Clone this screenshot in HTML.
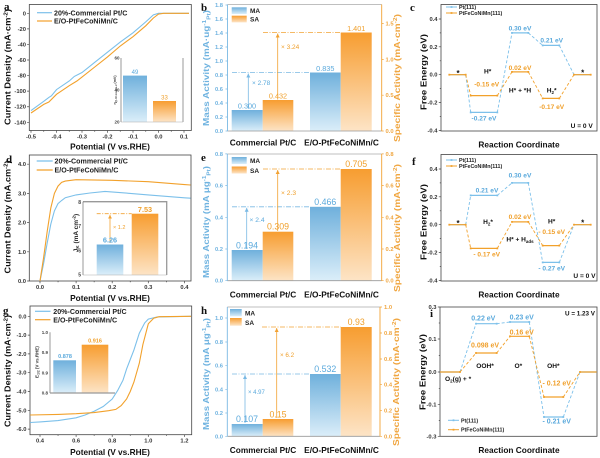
<!DOCTYPE html>
<html><head><meta charset="utf-8">
<style>
html,body{margin:0;padding:0;background:#fff;width:600px;height:458px;overflow:hidden}
svg{display:block}
text{font-family:"Liberation Sans",Arial,sans-serif}
.tk{font-size:5.8px;font-weight:bold;fill:#333}
.al{font-size:8.3px;font-weight:bold;fill:#111}
.lg{font-size:7.1px;font-weight:bold;fill:#222}
.pl{font-family:"Liberation Serif",serif;font-size:11px;font-weight:bold;fill:#111}
.b{fill:#5aa9dc}.o{fill:#f0a02c}
.sl{font-size:6.6px;font-weight:bold}
.cat{font-size:8.3px;font-weight:bold;fill:#111}
</style></head><body>
<svg width="600" height="458" viewBox="0 0 600 458" xmlns="http://www.w3.org/2000/svg">
<defs>
<linearGradient id="gb" x1="0" y1="0" x2="0" y2="1"><stop offset="0" stop-color="#6fb0dc"/><stop offset="1" stop-color="#dbeef9"/></linearGradient>
<linearGradient id="go" x1="0" y1="0" x2="0" y2="1"><stop offset="0" stop-color="#f79d30"/><stop offset="1" stop-color="#fde4c6"/></linearGradient>
<marker id="ab" markerWidth="4" markerHeight="4" refX="4" refY="2" orient="auto" markerUnits="userSpaceOnUse"><path d="M0,0 L4,2 L0,4 z" fill="#7ab9e4"/></marker>
<marker id="ao" markerWidth="4" markerHeight="4" refX="4" refY="2" orient="auto" markerUnits="userSpaceOnUse"><path d="M0,0 L4,2 L0,4 z" fill="#f2a233"/></marker>
</defs>
<rect width="600" height="458" fill="#fff"/>

<!-- ============ PANEL A ============ -->
<text class="pl" x="4" y="10">a</text>
<rect x="29.3" y="4.5" width="162" height="126" fill="none" stroke="#444" stroke-width="0.8"/>
<path d="M31 130.5v2.2M56.5 130.5v2.2M82 130.5v2.2M107.5 130.5v2.2M133 130.5v2.2M158.5 130.5v2.2M184 130.5v2.2M43.75 130.5v1.2M69.25 130.5v1.2M94.75 130.5v1.2M120.25 130.5v1.2M145.75 130.5v1.2M171.25 130.5v1.2M29.3 13.3h-2.2M29.3 28.87h-2.2M29.3 44.44h-2.2M29.3 60.01h-2.2M29.3 75.58h-2.2M29.3 91.15h-2.2M29.3 106.72h-2.2M29.3 122.29h-2.2" stroke="#444" stroke-width="0.7"/>
<g class="tk" text-anchor="end">
<text x="26" y="15.3">0</text><text x="26" y="30.9">-20</text><text x="26" y="46.4">-40</text><text x="26" y="62">-60</text><text x="26" y="77.6">-80</text><text x="26" y="93.2">-100</text><text x="26" y="108.7">-120</text><text x="26" y="124.3">-140</text>
</g>
<g class="tk" text-anchor="middle">
<text x="31" y="138.5">-0.5</text><text x="56.5" y="138.5">-0.4</text><text x="82" y="138.5">-0.3</text><text x="107.5" y="138.5">-0.2</text><text x="133" y="138.5">-0.1</text><text x="158.5" y="138.5">0.0</text><text x="184" y="138.5">0.1</text>
</g>
<text class="al" x="110" y="149.5" text-anchor="middle">Potential (V vs.RHE)</text>
<text class="al" transform="translate(10.5,67) rotate(-90)" text-anchor="middle" textLength="116" lengthAdjust="spacingAndGlyphs">Current Density (mA·cm<tspan dy="-3" font-size="5.5">-2</tspan><tspan dy="3">)</tspan></text>
<polyline fill="none" stroke="#7cc0ea" stroke-width="1.1" points="31,110.6 43.75,101.3 48.85,97.4 51.4,95.8 56.5,89.6 69.25,81 74.35,76.4 82,72.5 94.75,62.3 107.5,52.2 120.25,42.1 133,32.8 145.75,21.9 153.4,14.9 158.5,13.3 189,13.3"/>
<polyline fill="none" stroke="#f2a12b" stroke-width="1.1" points="31,113 43.75,104.4 48.85,102 56.5,94.3 69.25,85.7 76.9,81 82,77.1 94.75,67 107.5,56.9 120.25,46 133,36.7 145.75,25.8 153.4,18 158.5,14.1 163.6,13.3 189,13.3"/>
<line x1="37" y1="12.7" x2="52" y2="12.7" stroke="#7cc0ea" stroke-width="1.2"/>
<line x1="37" y1="21" x2="52" y2="21" stroke="#f2a12b" stroke-width="1.2"/>
<text class="lg" x="54" y="15.3">20%-Commercial Pt/C</text>
<text class="lg" x="54" y="23.6">E/O-PtFeCoNiMn/C</text>
<!-- inset a -->
<rect x="123" y="75.6" width="24" height="46.4" fill="url(#gb)"/>
<rect x="153" y="101" width="23" height="21" fill="url(#go)"/>
<line x1="121" y1="58" x2="121" y2="122" stroke="#555" stroke-width="0.6"/>
<line x1="183" y1="58" x2="183" y2="122" stroke="#999" stroke-width="1"/>
<line x1="121" y1="122" x2="183" y2="122" stroke="#aaa" stroke-width="0.6"/>
<g style="font-size:4.5px;font-weight:bold;fill:#444" text-anchor="end"><text x="119.5" y="59.5">60</text><text x="119.5" y="91.5">40</text><text x="119.5" y="123.5">20</text></g>
<text transform="translate(116,90) rotate(-90)" text-anchor="middle" style="font-size:3.6px;font-weight:bold;fill:#444">η<tspan font-size="2.6" dy="1">@-10 mA cm-2</tspan><tspan dy="-1"> (mV)</tspan></text>
<text x="135" y="74" text-anchor="middle" style="font-size:6px" class="b">49</text>
<text x="164.5" y="99.5" text-anchor="middle" style="font-size:6px" class="o">33</text>

<!-- ============ PANEL B ============ -->
<text class="pl" x="201" y="11">b</text>
<line x1="227.5" y1="4.5" x2="381.7" y2="4.5" stroke="#aaa" stroke-width="0.8"/>
<rect x="231.7" y="110" width="31" height="21" fill="url(#gb)"/>
<rect x="262.7" y="100" width="30.6" height="31" fill="url(#go)"/>
<rect x="310" y="72.5" width="30.7" height="58.5" fill="url(#gb)"/>
<rect x="340.7" y="32.5" width="31" height="98.5" fill="url(#go)"/>
<line x1="227.5" y1="131" x2="381.7" y2="131" stroke="#999" stroke-width="0.8"/>
<line x1="227.5" y1="4.5" x2="227.5" y2="131" stroke="#7ab9e4" stroke-width="0.9"/>
<line x1="381.7" y1="4.5" x2="381.7" y2="131" stroke="#f2a233" stroke-width="0.9"/>
<path d="M227.5 131h-2M227.5 117h-2M227.5 103h-2M227.5 89h-2M227.5 75h-2M227.5 61h-2M227.5 47h-2M227.5 33h-2M227.5 19h-2M227.5 5h-2" stroke="#7ab9e4" stroke-width="0.7"/>
<path d="M381.7 131h2M381.7 95.2h2M381.7 59.4h2M381.7 23.6h2" stroke="#f2a233" stroke-width="0.7"/>
<g class="tk" text-anchor="end" style="fill:#6fb3e0">
<text x="223" y="133">0.0</text><text x="223" y="119">0.2</text><text x="223" y="105">0.4</text><text x="223" y="91">0.6</text><text x="223" y="77">0.8</text><text x="223" y="63">1.0</text><text x="223" y="49">1.2</text><text x="223" y="35">1.4</text><text x="223" y="21">1.6</text><text x="223" y="7">1.8</text>
</g>
<g class="tk" style="fill:#f0a640"><text x="385.5" y="133">0.0</text><text x="385.5" y="97.2">0.5</text><text x="385.5" y="61.4">1.0</text><text x="385.5" y="25.6">1.5</text></g>
<line x1="232" y1="72.5" x2="310" y2="72.5" stroke="#7ab9e4" stroke-width="0.8" stroke-dasharray="5,1.5,1,1.5"/>
<line x1="263" y1="32.5" x2="341" y2="32.5" stroke="#f2a233" stroke-width="0.8" stroke-dasharray="5,1.5,1,1.5"/>
<line x1="248.3" y1="109" x2="248.3" y2="73.5" stroke="#7ab9e4" stroke-width="0.8" marker-end="url(#ab)"/>
<line x1="277.7" y1="99.5" x2="277.7" y2="33.5" stroke="#f2a233" stroke-width="0.8" marker-end="url(#ao)"/>
<text x="252" y="85" class="b" style="font-size:6.5px">× 2.78</text>
<text x="281" y="49" class="o" style="font-size:6.5px">× 3.24</text>
<g text-anchor="middle" style="font-size:7.3px">
<text x="247" y="108.3" class="b">0.300</text><text x="278" y="98.3" class="o">0.432</text><text x="325.3" y="70.8" class="b">0.835</text><text x="356.2" y="30.8" class="o">1.401</text>
</g>
<rect x="231.7" y="7.3" width="15" height="6.7" fill="url(#gb)"/>
<rect x="231.7" y="15.7" width="15" height="6.7" fill="url(#go)"/>
<text x="250" y="13.2" style="font-size:6.5px;font-weight:bold;fill:#222">MA</text>
<text x="250" y="21.6" style="font-size:6.5px;font-weight:bold;fill:#222">SA</text>
<text class="cat" x="263" y="145.5" text-anchor="middle">Commercial Pt/C</text>
<text class="cat" x="341.5" y="145.5" text-anchor="middle">E/O-PtFeCoNiMn/C</text>
<text class="al" transform="translate(209,68) rotate(-90)" text-anchor="middle" style="fill:#6fb3e0" textLength="116" lengthAdjust="spacingAndGlyphs">Mass Activity (mA·ug<tspan dy="-3" font-size="5.5">-1</tspan><tspan dy="4.5" font-size="5.5">Pt</tspan><tspan dy="-1.5">)</tspan></text>
<text class="al" transform="translate(400,78) rotate(-90)" text-anchor="middle" style="fill:#f0a640" textLength="128" lengthAdjust="spacingAndGlyphs">Specific Activity (mA·cm<tspan dy="-3" font-size="5.5">-2</tspan><tspan dy="3">)</tspan></text>

<!-- ============ PANEL C ============ -->
<text class="pl" x="410" y="11">c</text>
<rect x="441" y="4.5" width="156" height="126.5" fill="none" stroke="#444" stroke-width="0.8"/>
<path d="M441 19h-2.2M441 46.8h-2.2M441 74.7h-2.2M441 102.6h-2.2M441 130.5h-2.2M441 32.9h-1.2M441 60.8h-1.2M441 88.6h-1.2M441 116.5h-1.2" stroke="#444" stroke-width="0.7"/>
<g class="tk" text-anchor="end"><text x="437.5" y="21">0.4</text><text x="437.5" y="48.8">0.2</text><text x="437.5" y="76.7">0.0</text><text x="437.5" y="104.6">-0.2</text><text x="437.5" y="132.5">-0.4</text></g>
<text class="al" x="519" y="147.5" text-anchor="middle">Reaction Coordinate</text>
<text class="al" transform="translate(426.5,72) rotate(-90)" text-anchor="middle" textLength="76" lengthAdjust="spacingAndGlyphs">Free Energy (eV)</text>
<path d="M465.7 74.7L470.7 112.4M497.3 112.4L512 32.9M528.3 32.9L542.7 45.4M559.3 45.4L574 74.7" stroke="#7cc0ea" stroke-width="0.9" stroke-dasharray="3,2" fill="none"/>
<path d="M449.3 74.7H465.7M470.7 112.4H497.3M512 32.9H528.3M542.7 45.4H559.3M574 74.7H590.7" stroke="#7cc0ea" stroke-width="1.2" fill="none"/>
<g fill="#7cc0ea"><rect x="469.8" y="111.5" width="1.8" height="1.8"/><rect x="496.4" y="111.5" width="1.8" height="1.8"/><rect x="511.1" y="32" width="1.8" height="1.8"/><rect x="527.4" y="32" width="1.8" height="1.8"/><rect x="541.8" y="44.5" width="1.8" height="1.8"/><rect x="558.4" y="44.5" width="1.8" height="1.8"/></g>
<path d="M465.7 74.7L470.7 95.6M497.3 95.6L512 71.9M528.3 71.9L542.7 98.4M559.3 98.4L574 74.7" stroke="#f2a12b" stroke-width="0.9" stroke-dasharray="3,2" fill="none"/>
<path d="M449.3 74.7H465.7M470.7 95.6H497.3M512 71.9H528.3M542.7 98.4H559.3M574 74.7H590.7" stroke="#f2a12b" stroke-width="1.2" fill="none"/>
<g fill="#f2a12b"><rect x="448.4" y="73.8" width="1.8" height="1.8"/><rect x="464.8" y="73.8" width="1.8" height="1.8"/><rect x="469.8" y="94.7" width="1.8" height="1.8"/><rect x="496.4" y="94.7" width="1.8" height="1.8"/><rect x="511.1" y="71" width="1.8" height="1.8"/><rect x="527.4" y="71" width="1.8" height="1.8"/><rect x="541.8" y="97.5" width="1.8" height="1.8"/><rect x="558.4" y="97.5" width="1.8" height="1.8"/><rect x="573.1" y="73.8" width="1.8" height="1.8"/><rect x="589.8" y="73.8" width="1.8" height="1.8"/></g>
<g class="sl" text-anchor="middle">
<text x="458" y="76" style="font-size:8px;fill:#111">*</text>
<text x="487.7" y="73.5" style="fill:#111">H*</text>
<text x="486.7" y="86.4" class="o">-0.15 eV</text>
<text x="484" y="120.7" class="b">-0.27 eV</text>
<text x="520" y="30.7" class="b">0.30 eV</text>
<text x="520" y="70" class="o">0.02 eV</text>
<text x="520" y="92.4" style="fill:#111">H* + *H</text>
<text x="551.7" y="42.4" class="b">0.21 eV</text>
<text x="551.7" y="92.4" style="fill:#111">H<tspan dy="1.5" font-size="4.5">2</tspan><tspan dy="-1.5">*</tspan></text>
<text x="551.7" y="109" class="o">-0.17 eV</text>
<text x="582.7" y="75.5" style="font-size:8px;fill:#111">*</text>
<text x="581.7" y="128" style="fill:#111">U = 0 V</text>
</g>
<line x1="446" y1="7" x2="457" y2="7" stroke="#7cc0ea" stroke-width="1"/><rect x="450.6" y="6.1" width="1.8" height="1.8" fill="#7cc0ea"/>
<line x1="446" y1="13" x2="457" y2="13" stroke="#f2a12b" stroke-width="1"/><rect x="450.6" y="12.1" width="1.8" height="1.8" fill="#f2a12b"/>
<text x="459" y="9" style="font-size:5.3px;font-weight:bold;fill:#222">Pt(111)</text>
<text x="459" y="15" style="font-size:5.3px;font-weight:bold;fill:#222">PtFeCoNiMn(111)</text>

<!-- ============ PANEL D ============ -->
<text class="pl" x="6" y="163">d</text>
<rect x="29.3" y="155" width="161.7" height="126" fill="none" stroke="#444" stroke-width="0.8"/>
<path d="M40 281v2.2M76.1 281v2.2M112.2 281v2.2M148.3 281v2.2M184.4 281v2.2M58.05 281v1.2M94.15 281v1.2M130.25 281v1.2M166.35 281v1.2M29.3 281h-2.2M29.3 251.8h-2.2M29.3 222.6h-2.2M29.3 193.4h-2.2M29.3 164.2h-2.2" stroke="#444" stroke-width="0.7"/>
<g class="tk" text-anchor="end"><text x="26" y="283">0.0</text><text x="26" y="253.8">1.0</text><text x="26" y="224.6">2.0</text><text x="26" y="195.4">3.0</text><text x="26" y="166.2">4.0</text></g>
<g class="tk" text-anchor="middle"><text x="40" y="289">0.0</text><text x="76.1" y="289">0.1</text><text x="112.2" y="289">0.2</text><text x="148.3" y="289">0.3</text><text x="184.4" y="289">0.4</text></g>
<text class="al" x="110" y="301" text-anchor="middle">Potential (V vs.RHE)</text>
<text class="al" transform="translate(10.5,217) rotate(-90)" text-anchor="middle" textLength="113" lengthAdjust="spacingAndGlyphs">Current Density (mA.cm<tspan dy="-3" font-size="5.5">-2</tspan><tspan dy="3">)</tspan></text>
<polyline fill="none" stroke="#7cc0ea" stroke-width="1.1" points="40,281 43.6,263.5 47.2,243 50.8,224.1 54.4,210.9 58,203.6 61.6,200.5 65.3,197.7 76.1,194.9 90,193 105,191.4 130.3,193.4 148.3,194.9 184.4,197.8 190.5,198.2"/>
<polyline fill="none" stroke="#f2a12b" stroke-width="1.1" points="40,281 43.6,257.6 47.2,231.4 50.8,208 54.4,193.4 58,186.1 61.6,182.4 65.3,181.1 76.1,179.7 112.2,180.3 148.3,181.7 184.4,184.6 190.5,185"/>
<line x1="36.7" y1="161" x2="52.7" y2="161" stroke="#7cc0ea" stroke-width="1.2"/>
<line x1="36.7" y1="170" x2="52.7" y2="170" stroke="#f2a12b" stroke-width="1.2"/>
<text class="lg" x="54.5" y="163.6">20%-Commercial Pt/C</text>
<text class="lg" x="54.5" y="172.6">E/O-PtFeCoNiMn/C</text>
<!-- inset d -->
<rect x="96.7" y="244.5" width="26.6" height="30.5" fill="url(#gb)"/>
<rect x="131.7" y="213.7" width="26.6" height="61.3" fill="url(#go)"/>
<path d="M83 201.7H166.7V275" fill="none" stroke="#999" stroke-width="1.3"/>
<line x1="83" y1="201.7" x2="83" y2="275" stroke="#555" stroke-width="0.6"/>
<line x1="83" y1="275" x2="166.7" y2="275" stroke="#aaa" stroke-width="0.6"/>
<g style="font-size:5px;font-weight:bold;fill:#444" text-anchor="end"><text x="81" y="204">8</text><text x="81" y="228.2">7</text><text x="81" y="252.5">6</text><text x="81" y="276.7">5</text></g>
<text transform="translate(78,233) rotate(-90)" text-anchor="middle" style="font-size:6.5px;font-weight:bold;fill:#222">J<tspan font-size="4.5" dy="1.2">K</tspan><tspan dy="-1.2"> (mA cm</tspan><tspan dy="-2.5" font-size="4.5">-2</tspan><tspan dy="2.5">)</tspan></text>
<line x1="96.7" y1="213.7" x2="131.7" y2="213.7" stroke="#f2a233" stroke-width="0.8" stroke-dasharray="4,1.5,1,1.5"/>
<line x1="110" y1="243" x2="110" y2="214.7" stroke="#f2a233" stroke-width="0.8" marker-end="url(#ao)"/>
<text x="113" y="229" class="o" style="font-size:5.5px">× 1.2</text>
<text x="110" y="242.5" text-anchor="middle" class="b" style="font-size:7.3px;font-weight:bold">6.26</text>
<text x="145" y="211.8" text-anchor="middle" class="o" style="font-size:7.3px;font-weight:bold">7.53</text>

<!-- ============ PANEL E ============ -->
<text class="pl" x="201" y="161">e</text>
<line x1="227.3" y1="154" x2="381.7" y2="154" stroke="#aaa" stroke-width="0.8"/>
<rect x="231.7" y="250" width="31" height="30.7" fill="url(#gb)"/>
<rect x="262.7" y="231.7" width="30.6" height="49" fill="url(#go)"/>
<rect x="310" y="206.8" width="30.7" height="73.9" fill="url(#gb)"/>
<rect x="340.7" y="169" width="31" height="111.7" fill="url(#go)"/>
<line x1="227.3" y1="280.7" x2="381.7" y2="280.7" stroke="#999" stroke-width="0.8"/>
<line x1="227.3" y1="154" x2="227.3" y2="280.7" stroke="#7ab9e4" stroke-width="0.9"/>
<line x1="381.7" y1="154" x2="381.7" y2="280.7" stroke="#f2a233" stroke-width="0.9"/>
<path d="M227.3 280.7h-2M227.3 249h-2M227.3 217.3h-2M227.3 185.6h-2M227.3 153.9h-2" stroke="#7ab9e4" stroke-width="0.7"/>
<path d="M381.7 280.7h2M381.7 249h2M381.7 217.3h2M381.7 185.6h2M381.7 153.9h2" stroke="#f2a233" stroke-width="0.7"/>
<g class="tk" text-anchor="end" style="fill:#6fb3e0"><text x="223" y="282.7">0.0</text><text x="223" y="251">0.2</text><text x="223" y="219.3">0.4</text><text x="223" y="187.6">0.6</text><text x="223" y="156">0.8</text></g>
<g class="tk" style="fill:#f0a640"><text x="385.5" y="282.7">0.0</text><text x="385.5" y="251">0.2</text><text x="385.5" y="219.3">0.4</text><text x="385.5" y="187.6">0.6</text><text x="385.5" y="156">0.8</text></g>
<line x1="232" y1="206.8" x2="310" y2="206.8" stroke="#7ab9e4" stroke-width="0.8" stroke-dasharray="5,1.5,1,1.5"/>
<line x1="263" y1="169" x2="341" y2="169" stroke="#f2a233" stroke-width="0.8" stroke-dasharray="5,1.5,1,1.5"/>
<line x1="246.7" y1="249" x2="246.7" y2="207.8" stroke="#7ab9e4" stroke-width="0.8" marker-end="url(#ab)"/>
<line x1="277.7" y1="231" x2="277.7" y2="170" stroke="#f2a233" stroke-width="0.8" marker-end="url(#ao)"/>
<text x="249.5" y="222" class="b" style="font-size:6.7px">× 2.4</text>
<text x="281" y="195" class="o" style="font-size:6.7px">× 2.3</text>
<g text-anchor="middle" style="font-size:8.8px">
<text x="247" y="248.3" class="b">0.194</text><text x="278" y="229.6" class="o">0.309</text><text x="325.3" y="204.8" class="b">0.466</text><text x="356.2" y="167" class="o">0.705</text>
</g>
<rect x="231.7" y="157" width="15" height="7" fill="url(#gb)"/>
<rect x="231.7" y="166.5" width="15" height="7" fill="url(#go)"/>
<text x="250" y="162.8" style="font-size:6.5px;font-weight:bold;fill:#222">MA</text>
<text x="250" y="173" style="font-size:6.5px;font-weight:bold;fill:#222">SA</text>
<text class="cat" x="263" y="297.5" text-anchor="middle">Commercial Pt/C</text>
<text class="cat" x="341.5" y="297.5" text-anchor="middle">E/O-PtFeCoNiMn/C</text>
<text class="al" transform="translate(209,222) rotate(-90)" text-anchor="middle" style="fill:#6fb3e0" textLength="112" lengthAdjust="spacingAndGlyphs">Mass Activity (mA μg<tspan dy="-3" font-size="5.5">-1</tspan><tspan dy="4.5" font-size="5.5">Pt</tspan><tspan dy="-1.5">)</tspan></text>
<text class="al" transform="translate(400,228) rotate(-90)" text-anchor="middle" style="fill:#f0a640" textLength="128" lengthAdjust="spacingAndGlyphs">Specific Activity (mA·cm<tspan dy="-3" font-size="5.5">-2</tspan><tspan dy="3">)</tspan></text>

<!-- ============ PANEL F ============ -->
<text class="pl" x="412" y="165">f</text>
<rect x="441" y="154.5" width="156" height="126.5" fill="none" stroke="#444" stroke-width="0.8"/>
<path d="M441 169h-2.2M441 196.8h-2.2M441 224.7h-2.2M441 252.6h-2.2M441 280.5h-2.2M441 182.9h-1.2M441 210.8h-1.2M441 238.6h-1.2M441 266.5h-1.2" stroke="#444" stroke-width="0.7"/>
<g class="tk" text-anchor="end"><text x="437.5" y="171">0.4</text><text x="437.5" y="198.8">0.2</text><text x="437.5" y="226.7">0.0</text><text x="437.5" y="254.6">-0.2</text><text x="437.5" y="282.5">-0.4</text></g>
<text class="al" x="519" y="297.5" text-anchor="middle">Reaction Coordinate</text>
<text class="al" transform="translate(426.5,222) rotate(-90)" text-anchor="middle" textLength="76" lengthAdjust="spacingAndGlyphs">Free Energy (eV)</text>
<path d="M465.7 224.7L470.7 195.4M497.3 195.4L512 182.9M528.3 182.9L542.7 262.4M559.3 262.4L574 224.7" stroke="#7cc0ea" stroke-width="0.9" stroke-dasharray="3,2" fill="none"/>
<path d="M449.3 224.7H465.7M470.7 195.4H497.3M512 182.9H528.3M542.7 262.4H559.3M574 224.7H590.7" stroke="#7cc0ea" stroke-width="1.2" fill="none"/>
<g fill="#7cc0ea"><rect x="469.8" y="194.5" width="1.8" height="1.8"/><rect x="496.4" y="194.5" width="1.8" height="1.8"/><rect x="511.1" y="182" width="1.8" height="1.8"/><rect x="527.4" y="182" width="1.8" height="1.8"/><rect x="541.8" y="261.5" width="1.8" height="1.8"/><rect x="558.4" y="261.5" width="1.8" height="1.8"/></g>
<path d="M465.7 224.7L470.7 248.4M497.3 248.4L512 221.9M528.3 221.9L542.7 245.6M559.3 245.6L574 224.7" stroke="#f2a12b" stroke-width="0.9" stroke-dasharray="3,2" fill="none"/>
<path d="M449.3 224.7H465.7M470.7 248.4H497.3M512 221.9H528.3M542.7 245.6H559.3M574 224.7H590.7" stroke="#f2a12b" stroke-width="1.2" fill="none"/>
<g fill="#f2a12b"><rect x="448.4" y="223.8" width="1.8" height="1.8"/><rect x="464.8" y="223.8" width="1.8" height="1.8"/><rect x="469.8" y="247.5" width="1.8" height="1.8"/><rect x="496.4" y="247.5" width="1.8" height="1.8"/><rect x="511.1" y="221" width="1.8" height="1.8"/><rect x="527.4" y="221" width="1.8" height="1.8"/><rect x="541.8" y="244.7" width="1.8" height="1.8"/><rect x="558.4" y="244.7" width="1.8" height="1.8"/><rect x="573.1" y="223.8" width="1.8" height="1.8"/><rect x="589.8" y="223.8" width="1.8" height="1.8"/></g>
<g class="sl" text-anchor="middle">
<text x="458" y="226" style="font-size:8px;fill:#111">*</text>
<text x="487" y="192.4" class="b">0.21 eV</text>
<text x="488" y="224" style="fill:#111">H<tspan dy="1.5" font-size="4.5">2</tspan><tspan dy="-1.5">*</tspan></text>
<text x="486.7" y="256.7" class="o">- 0.17 eV</text>
<text x="520" y="177.4" class="b">0.30 eV</text>
<text x="520" y="219" class="o">0.02 eV</text>
<text x="520" y="241.7" style="fill:#111">H* + H<tspan dy="1.5" font-size="4.5">ads</tspan></text>
<text x="551.7" y="223.4" style="fill:#111">H*</text>
<text x="551.7" y="234" class="o">- 0.15 eV</text>
<text x="551.7" y="270.7" class="b">- 0.27 eV</text>
<text x="582.7" y="225.5" style="font-size:8px;fill:#111">*</text>
<text x="584.5" y="278" style="fill:#111">U = 0 V</text>
</g>
<line x1="446" y1="160" x2="457" y2="160" stroke="#7cc0ea" stroke-width="1"/><rect x="450.6" y="159.1" width="1.8" height="1.8" fill="#7cc0ea"/>
<line x1="446" y1="166" x2="457" y2="166" stroke="#f2a12b" stroke-width="1"/><rect x="450.6" y="165.1" width="1.8" height="1.8" fill="#f2a12b"/>
<text x="459" y="162" style="font-size:5.3px;font-weight:bold;fill:#222">Pt(111)</text>
<text x="459" y="168" style="font-size:5.3px;font-weight:bold;fill:#222">PtFeCoNiMn(111)</text>

<!-- ============ PANEL G ============ -->
<text class="pl" x="3" y="314">g</text>
<rect x="30" y="306" width="161.7" height="128.7" fill="none" stroke="#444" stroke-width="0.8"/>
<path d="M40 434.7v2.2M76.1 434.7v2.2M112.2 434.7v2.2M148.3 434.7v2.2M184.4 434.7v2.2M58.05 434.7v1.2M94.15 434.7v1.2M130.25 434.7v1.2M166.35 434.7v1.2M30 316.3h-2.2M30 335.1h-2.2M30 353.9h-2.2M30 372.7h-2.2M30 391.5h-2.2M30 410.3h-2.2M30 429.1h-2.2" stroke="#444" stroke-width="0.7"/>
<g class="tk" text-anchor="end"><text x="26.5" y="318.3">0.0</text><text x="26.5" y="337.1">-1.0</text><text x="26.5" y="355.9">-2.0</text><text x="26.5" y="374.7">-3.0</text><text x="26.5" y="393.5">-4.0</text><text x="26.5" y="412.3">-5.0</text><text x="26.5" y="431.1">-6.0</text></g>
<g class="tk" text-anchor="middle"><text x="40" y="442.3">0.4</text><text x="76.1" y="442.3">0.6</text><text x="112.2" y="442.3">0.8</text><text x="148.3" y="442.3">1.0</text><text x="184.4" y="442.3">1.2</text></g>
<text class="al" x="110" y="455" text-anchor="middle">Potential (V vs.RHE)</text>
<text class="al" transform="translate(10.5,371) rotate(-90)" text-anchor="middle" textLength="112" lengthAdjust="spacingAndGlyphs">Current Density (mA·cm<tspan dy="-3" font-size="5.5">-2</tspan><tspan dy="3">)</tspan></text>
<polyline fill="none" stroke="#7cc0ea" stroke-width="1.1" points="30.1,422.5 40,421.9 58.05,420.6 76.1,417.8 85.1,415 94.15,411.2 103.2,406.5 112.2,399 117.6,390.6 123,380.2 126.6,368.9 130.25,359.5 133.9,350.1 139.3,333.2 144.7,322.9 148.3,319.1 157.3,316.9 191,316.3"/>
<polyline fill="none" stroke="#f2a12b" stroke-width="1.1" points="30.1,415 58.05,414.4 76.1,413.7 94.15,412.6 108.6,410.7 115.8,409.4 121.2,405.6 126.6,399 130.25,391.5 133.9,382.1 139.3,363.3 142.9,344.5 148.3,323.8 153.7,318.2 159.1,316.7 191,316.3"/>
<line x1="35" y1="311.3" x2="50.5" y2="311.3" stroke="#7cc0ea" stroke-width="1.2"/>
<line x1="35" y1="319.7" x2="50.5" y2="319.7" stroke="#f2a12b" stroke-width="1.2"/>
<text class="lg" x="53.3" y="313.9">20%-Commercial Pt/C</text>
<text class="lg" x="53.3" y="322.3">E/O-PtFeCoNiMn/C</text>
<!-- inset g -->
<rect x="53.3" y="360.3" width="22.7" height="32.7" fill="url(#gb)"/>
<rect x="81.7" y="344.7" width="26.6" height="48.3" fill="url(#go)"/>
<line x1="50" y1="332.3" x2="50" y2="393" stroke="#555" stroke-width="0.6"/>
<line x1="50" y1="393" x2="115" y2="393" stroke="#999" stroke-width="1.3"/>
<g style="font-size:4.5px;font-weight:bold;fill:#444" text-anchor="end"><text x="48" y="334">1.0</text><text x="48" y="354.2">0.9</text><text x="48" y="374.4">0.9</text><text x="48" y="394.6">0.8</text></g>
<text transform="translate(38.5,362) rotate(-90)" text-anchor="middle" style="font-size:4.5px;font-weight:bold;fill:#444">E<tspan font-size="3.3" dy="1">1/2</tspan><tspan dy="-1"> (V vs.RHE)</tspan></text>
<text x="65" y="357.8" text-anchor="middle" class="b" style="font-size:5.5px;font-weight:bold">0.878</text>
<text x="95" y="342.3" text-anchor="middle" class="o" style="font-size:5.5px;font-weight:bold">0.916</text>

<!-- ============ PANEL H ============ -->
<text class="pl" x="201" y="314">h</text>
<line x1="227.3" y1="307" x2="380" y2="307" stroke="#aaa" stroke-width="0.8"/>
<rect x="231.7" y="424" width="31" height="12.3" fill="url(#gb)"/>
<rect x="262.7" y="419" width="30.6" height="17.3" fill="url(#go)"/>
<rect x="310" y="374" width="30.7" height="62.3" fill="url(#gb)"/>
<rect x="340.7" y="327" width="31" height="109.3" fill="url(#go)"/>
<line x1="227.3" y1="436.3" x2="380" y2="436.3" stroke="#999" stroke-width="0.8"/>
<line x1="227.3" y1="307" x2="227.3" y2="436.3" stroke="#7ab9e4" stroke-width="0.9"/>
<line x1="380" y1="307" x2="380" y2="436.3" stroke="#f2a233" stroke-width="0.9"/>
<path d="M227.3 436.3h-2M227.3 413h-2M227.3 389.3h-2M227.3 365.7h-2M227.3 342h-2M227.3 318h-2" stroke="#7ab9e4" stroke-width="0.7"/>
<path d="M380 436.3h2M380 410.3h2M380 384.7h2M380 359h2M380 333h2M380 307h2" stroke="#f2a233" stroke-width="0.7"/>
<g class="tk" text-anchor="end" style="fill:#6fb3e0"><text x="223" y="438.3">0.0</text><text x="223" y="415">0.2</text><text x="223" y="391.3">0.4</text><text x="223" y="367.7">0.6</text><text x="223" y="344">0.8</text><text x="223" y="320">1.0</text></g>
<g class="tk" style="fill:#f0a640"><text x="384" y="438.3">0.0</text><text x="384" y="412.3">0.2</text><text x="384" y="386.7">0.4</text><text x="384" y="361">0.6</text><text x="384" y="335">0.8</text><text x="384" y="309">1.0</text></g>
<line x1="232" y1="374" x2="310" y2="374" stroke="#7ab9e4" stroke-width="0.8" stroke-dasharray="5,1.5,1,1.5"/>
<line x1="262" y1="327" x2="341" y2="327" stroke="#f2a233" stroke-width="0.8" stroke-dasharray="5,1.5,1,1.5"/>
<line x1="245" y1="423" x2="245" y2="375" stroke="#7ab9e4" stroke-width="0.8" marker-end="url(#ab)"/>
<line x1="276.7" y1="418" x2="276.7" y2="328" stroke="#f2a233" stroke-width="0.8" marker-end="url(#ao)"/>
<text x="248" y="394" class="b" style="font-size:6px">× 4.97</text>
<text x="280" y="357" class="o" style="font-size:6.3px">× 6.2</text>
<g text-anchor="middle" style="font-size:8.8px">
<text x="247" y="421.8" class="b">0.107</text><text x="278" y="417.5" class="o">0.15</text><text x="325.3" y="371.8" class="b">0.532</text><text x="356.2" y="324.8" class="o">0.93</text>
</g>
<rect x="230" y="309" width="11.7" height="7.3" fill="url(#gb)"/>
<rect x="230" y="318" width="11.7" height="7.7" fill="url(#go)"/>
<text x="245" y="315.3" style="font-size:6.5px;font-weight:bold;fill:#222">MA</text>
<text x="245" y="325" style="font-size:6.5px;font-weight:bold;fill:#222">SA</text>
<text class="cat" x="263" y="452.8" text-anchor="middle">Commercial Pt/C</text>
<text class="cat" x="341.5" y="452.8" text-anchor="middle">E/O-PtFeCoNiMn/C</text>
<text class="al" transform="translate(209,374) rotate(-90)" text-anchor="middle" style="fill:#6fb3e0" textLength="112" lengthAdjust="spacingAndGlyphs">Mass Activity (mA μg<tspan dy="-3" font-size="5.5">-1</tspan><tspan dy="4.5" font-size="5.5">Pt</tspan><tspan dy="-1.5">)</tspan></text>
<text class="al" transform="translate(399,382) rotate(-90)" text-anchor="middle" style="fill:#f0a640" textLength="128" lengthAdjust="spacingAndGlyphs">Specific Activity (mA·cm<tspan dy="-3" font-size="5.5">-2</tspan><tspan dy="3">)</tspan></text>

<!-- ============ PANEL I ============ -->
<text class="pl" x="430" y="317">i</text>
<rect x="440" y="307" width="157" height="129.3" fill="none" stroke="#444" stroke-width="0.8"/>
<path d="M440 307h-2.2M440 339h-2.2M440 372h-2.2M440 404.7h-2.2M440 436.3h-2.2M440 323h-1.2M440 355.5h-1.2M440 388.3h-1.2M440 420.5h-1.2" stroke="#444" stroke-width="0.7"/>
<g class="tk" text-anchor="end"><text x="436.5" y="309">0.3</text><text x="436.5" y="341">0.1</text><text x="436.5" y="374">0.0</text><text x="436.5" y="406.7">-0.1</text><text x="436.5" y="438.3">-0.3</text></g>
<text class="al" x="519" y="452.8" text-anchor="middle">Reaction Coordinate</text>
<text class="al" transform="translate(425.5,372) rotate(-90)" text-anchor="middle" textLength="76" lengthAdjust="spacingAndGlyphs">Free Energy (eV)</text>
<path d="M460 372L476 323.7M496.7 323.7L510 322M529.3 322L544 417M563.3 417L580 372" stroke="#7cc0ea" stroke-width="0.9" stroke-dasharray="3,2" fill="none"/>
<path d="M440 372H460M476 323.7H496.7M510 322H529.3M544 417H563.3M580 372H596.7" stroke="#7cc0ea" stroke-width="1.2" fill="none"/>
<g fill="#7cc0ea"><rect x="475.1" y="322.8" width="1.8" height="1.8"/><rect x="495.8" y="322.8" width="1.8" height="1.8"/><rect x="509.1" y="321.1" width="1.8" height="1.8"/><rect x="528.4" y="321.1" width="1.8" height="1.8"/><rect x="543.1" y="416.1" width="1.8" height="1.8"/><rect x="562.4" y="416.1" width="1.8" height="1.8"/></g>
<path d="M460 372L476 353M496.7 353L510 336.3M529.3 336.3L544 397M563.3 397L580 372" stroke="#f2a12b" stroke-width="0.9" stroke-dasharray="3,2" fill="none"/>
<path d="M440 372H460M476 353H496.7M510 336.3H529.3M544 397H563.3M580 372H596.7" stroke="#f2a12b" stroke-width="1.2" fill="none"/>
<g fill="#f2a12b"><rect x="459.1" y="371.1" width="1.8" height="1.8"/><rect x="475.1" y="352.1" width="1.8" height="1.8"/><rect x="495.8" y="352.1" width="1.8" height="1.8"/><rect x="509.1" y="335.4" width="1.8" height="1.8"/><rect x="528.4" y="335.4" width="1.8" height="1.8"/><rect x="543.1" y="396.1" width="1.8" height="1.8"/><rect x="562.4" y="396.1" width="1.8" height="1.8"/><rect x="579.1" y="371.1" width="1.8" height="1.8"/></g>
<g class="sl" text-anchor="middle" style="font-size:7px">
<text x="483.3" y="320.4" class="b">0.22 eV</text>
<text x="521.7" y="319.4" class="b">0.23 eV</text>
<text x="521.7" y="334.7" class="o">0.16 eV</text>
<text x="485" y="347.7" class="o">0.098 eV</text>
<text x="485" y="368" style="fill:#111;font-size:6.6px">OOH*</text>
<text x="518.3" y="368" style="fill:#111;font-size:6.6px">O*</text>
<text x="553.3" y="368" style="fill:#111;font-size:6.6px">OH*</text>
<text x="556.7" y="385.4" class="o">- 0.12 eV</text>
<text x="556.7" y="423.7" class="b">- 0.21 eV</text>
</g>
<text x="445" y="380.8" style="font-size:6.6px;font-weight:bold;fill:#111">O<tspan dy="1.5" font-size="4.5">2</tspan><tspan dy="-1.5">(g) + *</tspan></text>
<text x="580" y="315.5" text-anchor="middle" style="font-size:6.3px;font-weight:bold;fill:#111">U = 1.23 V</text>
<line x1="448" y1="420.3" x2="459" y2="420.3" stroke="#7cc0ea" stroke-width="1"/><rect x="452.6" y="419.4" width="1.8" height="1.8" fill="#7cc0ea"/>
<line x1="448" y1="429.7" x2="459" y2="429.7" stroke="#f2a12b" stroke-width="1"/><rect x="452.6" y="428.8" width="1.8" height="1.8" fill="#f2a12b"/>
<text x="461" y="422.3" style="font-size:5.3px;font-weight:bold;fill:#222">Pt(111)</text>
<text x="461" y="431.7" style="font-size:5.3px;font-weight:bold;fill:#222">PtFeCoNiMn(111)</text>
</svg>
</body></html>
